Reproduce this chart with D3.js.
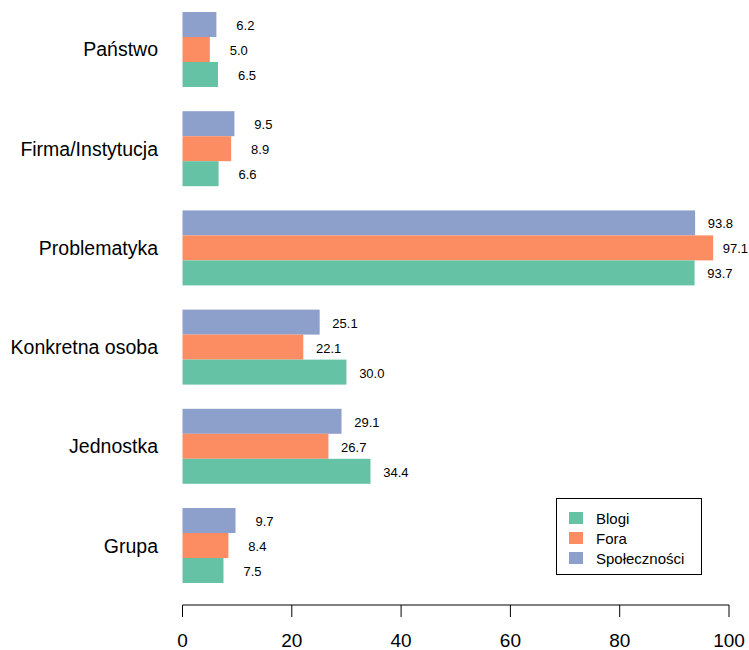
<!DOCTYPE html>
<html>
<head>
<meta charset="utf-8">
<script src="https://cdn.jsdelivr.net/npm/d3@7"></script>
<style>
body{margin:0;background:#fff;}
text{font-family:"Liberation Sans",Arial,Helvetica,sans-serif;fill:#000;}
</style>
</head>
<body>
<svg id="chart" width="749" height="650"></svg>
<script>
const categories = ["Państwo","Firma/Instytucja","Problematyka","Konkretna osoba","Jednostka","Grupa"];
const series = ["Społeczności","Fora","Blogi"];
const blogi = [6.5, 6.6, 93.7, 30.0, 34.4, 7.5];
const fora = [5.0, 8.9, 97.1, 22.1, 26.7, 8.4];
const spolecznosci = [6.2, 9.5, 93.8, 25.1, 29.1, 9.7];
const ticks = [0,20,40,60,80,100];
const legendLabels = ["Blogi","Fora","Społeczności"];
const colors = {"Blogi":"#66C2A5","Fora":"#FC8D62","Społeczności":"#8DA0CB"};
const values = {"Blogi":blogi,"Fora":fora,"Społeczności":spolecznosci};

const svg = d3.select("#chart");
const x = d3.scaleLinear().domain([0,100]).range([182.5,729]);
const yGroup = d3.scaleBand().domain(categories).range([12,583]).paddingInner(0.244).paddingOuter(0);
const yInner = d3.scaleBand().domain(series).range([0,yGroup.bandwidth()]);

const g = svg.append("g");
categories.forEach((c,i)=>{
  const gg = g.append("g").attr("transform",`translate(0,${yGroup(c)})`);
  series.forEach(s=>{
    const v = values[s][i];
    gg.append("rect")
      .attr("x",x(0)).attr("y",yInner(s))
      .attr("width",x(v)-x(0)).attr("height",yInner.bandwidth())
      .attr("fill",colors[s]);
    gg.append("text")
      .attr("x",Math.min(x(v)+38,748)).attr("y",yInner(s)+yInner.bandwidth()/2+1)
      .attr("text-anchor","end").attr("dominant-baseline","central")
      .attr("font-size",13).text(v.toFixed(1));
  });
  g.append("text")
    .attr("x",158).attr("y",yGroup(c)+yGroup.bandwidth()/2)
    .attr("text-anchor","end").attr("dominant-baseline","central")
    .attr("font-size",19.5).text(c);
});

// axis
const ax = svg.append("g").attr("transform","translate(0,605)");
ax.append("line").attr("x1",x(0)).attr("x2",x(100)).attr("y1",0).attr("y2",0).attr("stroke","#000");
ticks.forEach(t=>{
  ax.append("line").attr("x1",x(t)).attr("x2",x(t)).attr("y1",0).attr("y2",12).attr("stroke","#000");
  ax.append("text").attr("x",x(t)).attr("y",42).attr("text-anchor","middle").attr("font-size",19).text(t);
});

// legend
const lg = svg.append("g");
lg.append("rect").attr("x",556.5).attr("y",498.5).attr("width",145).attr("height",76)
  .attr("fill","#fff").attr("stroke","#000");
legendLabels.forEach((l,i)=>{
  const cy = 518 + i*20;
  lg.append("rect").attr("x",569).attr("y",cy-6).attr("width",14).attr("height",12).attr("fill",colors[l]);
  lg.append("text").attr("x",596).attr("y",cy).attr("dominant-baseline","central").attr("font-size",15).text(l);
});
</script>
</body>
</html>
